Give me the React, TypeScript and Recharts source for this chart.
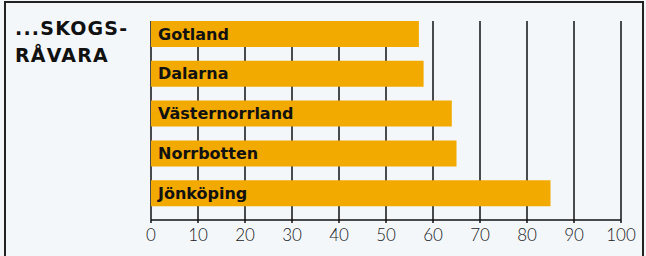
import React from "react";
import { Bar, BarChart, CartesianGrid, LabelList, XAxis, YAxis } from "recharts";

// Andel skogsråvara per län (procent)
const regions = ["Gotland", "Dalarna", "Västernorrland", "Norrbotten", "Jönköping"];
const shares = [57, 58, 64, 65, 85];
const xTicks = [0, 10, 20, 30, 40, 50, 60, 70, 80, 90, 100];

const chartData = regions.map((name, i) => ({ name, value: shares[i] }));

const AxisTick = ({ x, y, payload }: any) => (
  <text
    x={x}
    y={y + 16}
    textAnchor="middle"
    fill="#1a1a1a"
    fontSize={17}
    fontFamily="Lato, sans-serif"
    fontWeight={300}
  >
    {payload.value}
  </text>
);

const App = () => {
  return (
    <div
      style={{
        position: "absolute",
        left: 0,
        top: 0,
        width: 646,
        height: 256,
        background: "#f3f7fa",
        overflow: "hidden",
      }}
    >
      <div
        style={{
          position: "absolute",
          left: 4,
          top: 1,
          width: 636,
          height: 400,
          border: "2px solid #222",
        }}
      />
      <div
        style={{
          position: "absolute",
          left: 15,
          top: 15,
          fontFamily: "'DejaVu Sans', sans-serif",
          fontWeight: 700,
          fontSize: 19,
          lineHeight: "27px",
          letterSpacing: 1.2,
          color: "#111",
        }}
      >
        ...SKOGS-
        <br />
        RÅVARA
      </div>
      <BarChart
        width={646}
        height={256}
        data={chartData}
        layout="vertical"
        margin={{ top: 21, right: 25, bottom: 6, left: 151 }}
        barCategoryGap={7}
        style={{ position: "absolute", left: 0, top: 0 }}
      >
        <CartesianGrid horizontal={false} stroke="#111" strokeWidth={1.5} />
        <XAxis
          type="number"
          domain={[0, 100]}
          ticks={xTicks}
          interval={0}
          height={30}
          axisLine={{ stroke: "#111", strokeWidth: 1.5 }}
          tickLine={{ stroke: "#111", strokeWidth: 1.5 }}
          tickSize={3}
          tick={<AxisTick />}
        />
        <YAxis
          type="category"
          dataKey="name"
          width={0}
          tick={false}
          tickLine={false}
          axisLine={{ stroke: "#111", strokeWidth: 1.5 }}
          padding={{ top: -7, bottom: 7 }}
        />
        <Bar dataKey="value" fill="#f2a900" isAnimationActive={false}>
          <LabelList
            dataKey="name"
            position="insideLeft"
            offset={7}
            fill="#111"
            fontSize={16}
            fontWeight={700}
            fontFamily="'DejaVu Sans', sans-serif"
          />
        </Bar>
      </BarChart>
    </div>
  );
};

export default App;
